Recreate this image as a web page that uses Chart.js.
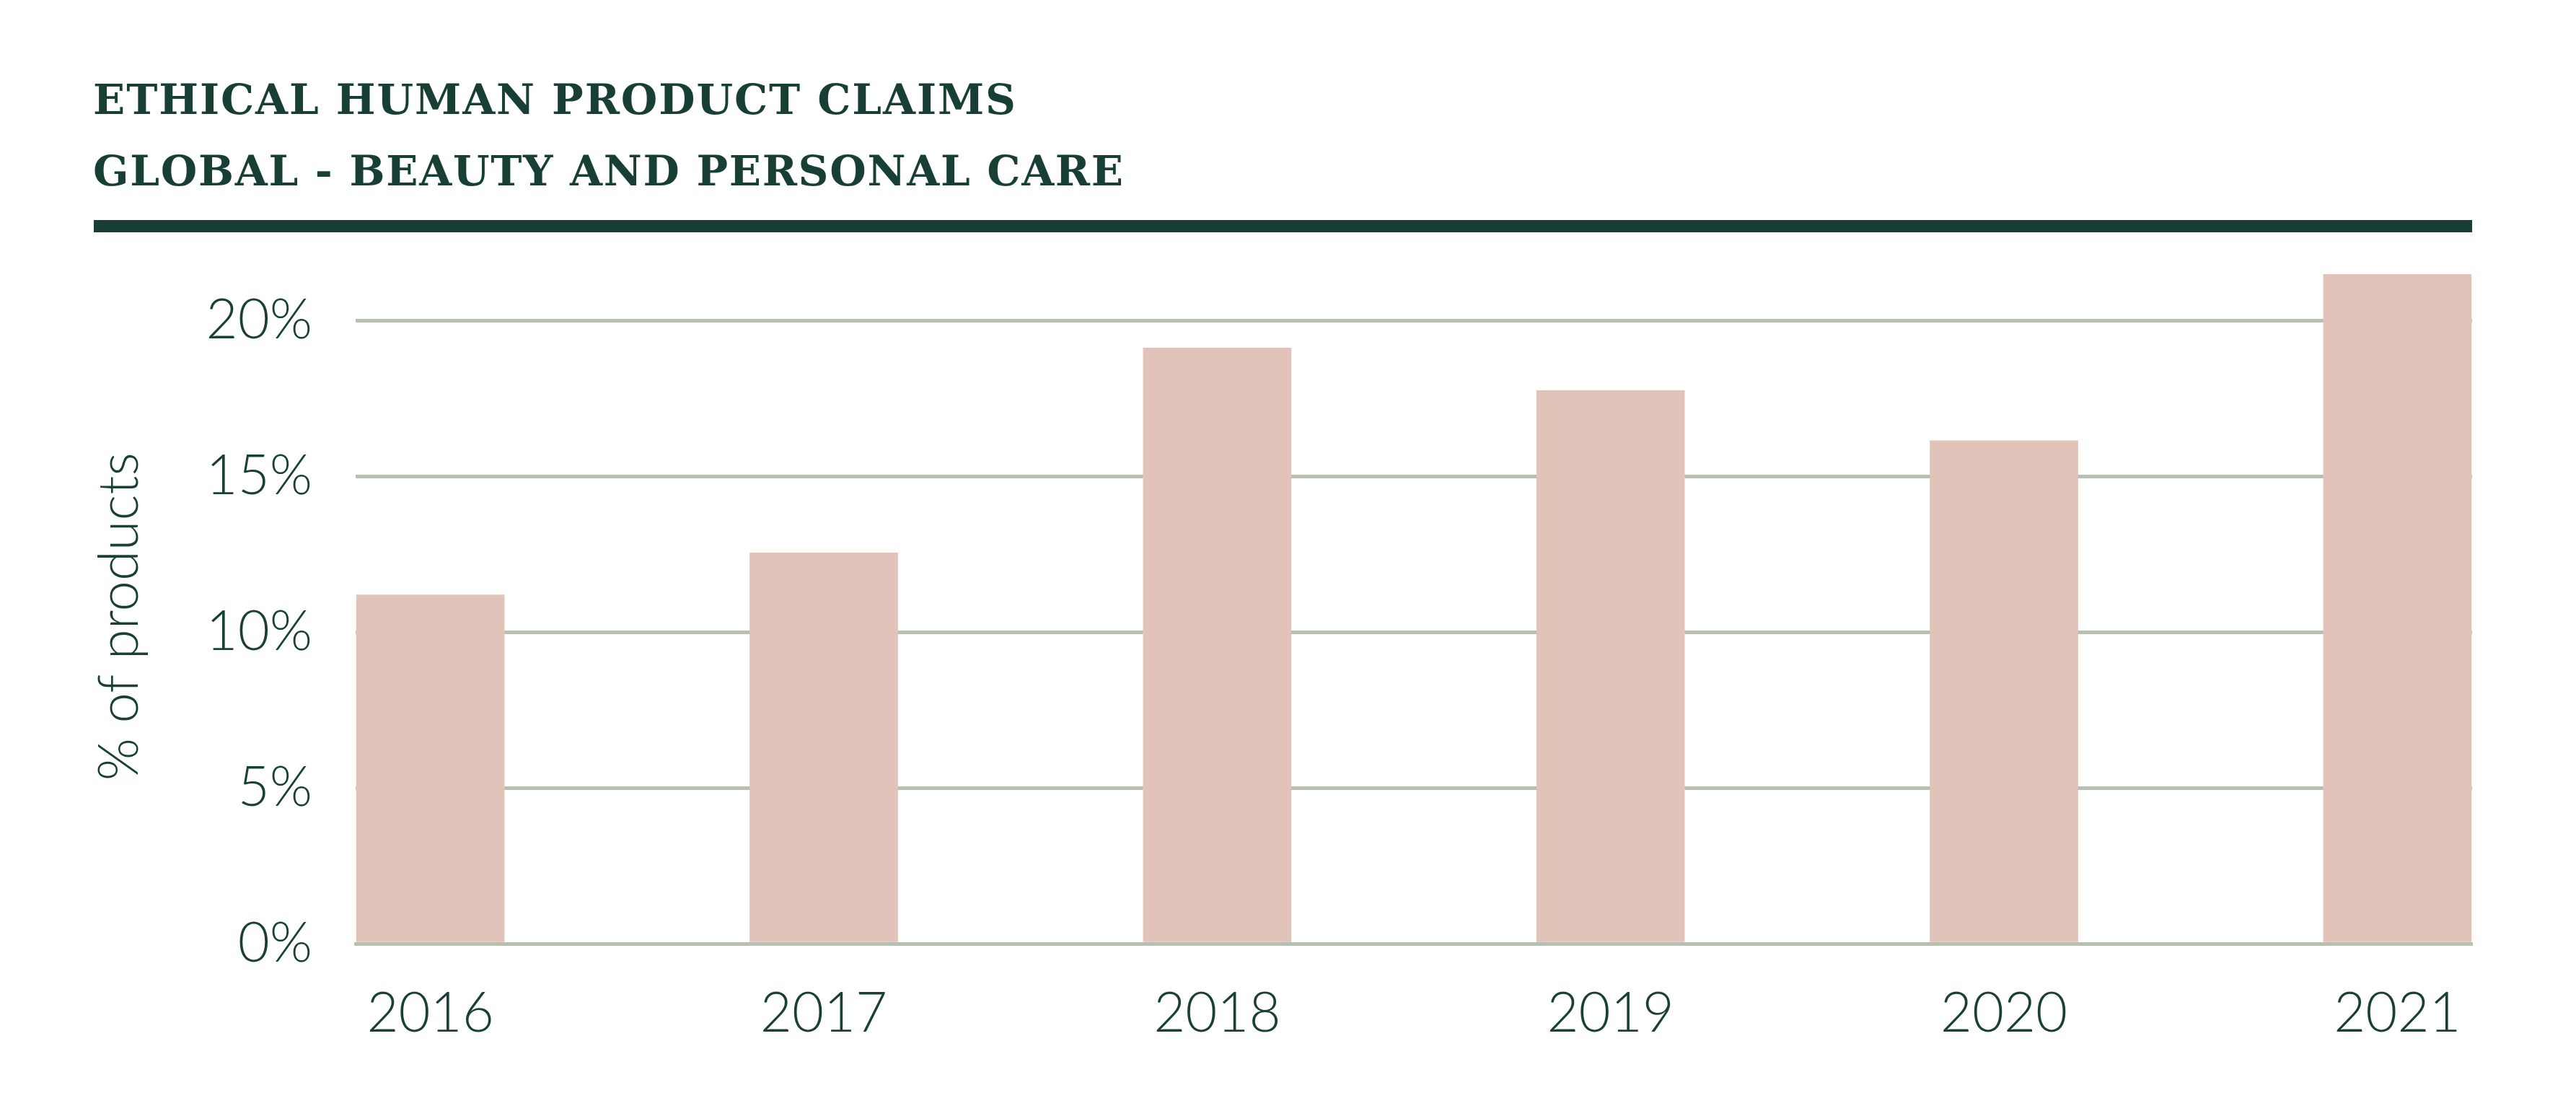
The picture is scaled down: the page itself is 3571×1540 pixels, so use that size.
<!DOCTYPE html>
<html>
<head>
<meta charset="utf-8">
<script src="https://cdn.jsdelivr.net/npm/chart.js@4.4.1/dist/chart.umd.min.js"></script>
<style>
  html, body { margin: 0; padding: 0; background: #fff; }
  body { width: 3571px; height: 1540px; position: relative; overflow: hidden; }
  .title {
    position: absolute; left: 129px;
    font-family: "DejaVu Serif", serif; font-weight: bold;
    font-size: 58px; line-height: 58px; color: #173f35;
    white-space: nowrap;
  }
  #t1 { top: 109px; }
  #t2 { top: 208px; }
  .rule { position: absolute; left: 130px; top: 305px; width: 3297px; height: 17px; background: #173f35; }
  #wrap { position: absolute; left: 0; top: 296px; }
</style>
</head>
<body>
<div class="title" id="t1"><span>ETHICAL HUMAN PRODUCT CLAIMS</span></div>
<div class="title" id="t2"><span>GLOBAL - BEAUTY AND PERSONAL CARE</span></div>
<div class="rule"></div>
<div id="wrap"><canvas id="chart" width="3571" height="1244"></canvas></div>
<script>
  // data
  const years = ['2016', '2017', '2018', '2019', '2020', '2021'];
  const shares = [11.2, 12.55, 19.13, 17.76, 16.15, 21.49];
  const yTicks = [0, 5, 10, 15, 20];

  // stretch the titles to the widths of the original
  function fitTitle(id, target) {
    const span = document.querySelector('#' + id + ' span');
    const text = span.textContent;
    const w0 = span.getBoundingClientRect().width;
    span.style.letterSpacing = ((target - w0) / (text.length - 1)) + 'px';
  }
  fitTitle('t1', 1279);
  fitTitle('t2', 1428);

  const ink = '#1a3f36';
  const gridColor = '#b7bfb3';
  const tickFont = { family: 'Lato', size: 76, weight: 300 };

  const ctx = document.getElementById('chart').getContext('2d');
  new Chart(ctx, {
    type: 'bar',
    data: {
      datasets: [{
        label: '% of products',
        data: shares.map((v, i) => ({ x: i, y: v })),
        backgroundColor: '#e1c3b9',
        borderWidth: 0,
        barThickness: 205,
        clip: false // last bar pokes above the plot top, as in the original
      }]
    },
    options: {
      responsive: false,
      animation: false,
      devicePixelRatio: 1,
      layout: { padding: { left: 121, right: 144, top: 26, bottom: 0 } },
      plugins: { legend: { display: false }, tooltip: { enabled: false } },
      scales: {
        x: {
          type: 'linear',
          min: -0.19,
          max: 5.19,
          offset: false,
          z: 1,
          grid: { display: false, drawTicks: false },
          border: { display: true, color: gridColor, width: 5 },
          afterBuildTicks: s => { s.ticks = years.map((_, i) => ({ value: i })); },
          afterFit: s => { s.height = 232; },
          ticks: {
            color: ink,
            font: tickFont,
            padding: 52,
            maxRotation: 0,
            autoSkip: false,
            callback: v => years[v]
          }
        },
        y: {
          min: 0,
          max: 21,
          afterBuildTicks: s => { s.ticks = yTicks.map(v => ({ value: v })); },
          afterFit: s => { s.width = 372; },
          grid: { color: gridColor, lineWidth: 5, drawTicks: false },
          border: { display: false },
          ticks: {
            color: ink,
            font: tickFont,
            padding: 60,
            callback: v => v + '%'
          },
          title: {
            display: true,
            text: '% of products',
            color: ink,
            font: tickFont,
            padding: 0
          }
        }
      }
    }
  });
</script>
</body>
</html>
